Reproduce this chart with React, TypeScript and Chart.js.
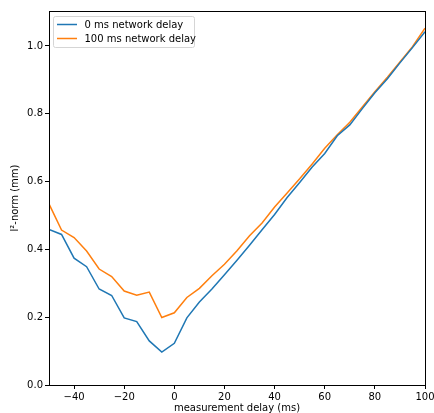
import React, { useEffect, useRef } from "react";
import { Chart, registerables } from "chart.js";

Chart.register(...registerables);

const delays = [-50, -45, -40, -35, -30, -25, -20, -15, -10, -5, 0, 5, 10, 15, 20, 25, 30, 35, 40, 45, 50, 55, 60, 65, 70, 75, 80, 85, 90, 95, 100];
const series0ms = [0.459, 0.444, 0.374, 0.349, 0.283, 0.264, 0.198, 0.187, 0.130, 0.097, 0.123, 0.198, 0.245, 0.283, 0.325, 0.368, 0.412, 0.458, 0.503, 0.553, 0.597, 0.643, 0.683, 0.735, 0.767, 0.815, 0.862, 0.903, 0.950, 0.995, 1.042];
const series100ms = [0.534, 0.457, 0.435, 0.395, 0.342, 0.320, 0.277, 0.265, 0.274, 0.199, 0.213, 0.258, 0.285, 0.322, 0.356, 0.396, 0.440, 0.478, 0.525, 0.566, 0.608, 0.652, 0.698, 0.738, 0.775, 0.820, 0.865, 0.908, 0.953, 0.998, 1.052];
const seriesLabels = ["0 ms network delay", "100 ms network delay"];
const seriesColors = ["#1f77b4", "#ff7f0e"];
const xTicks = [-40, -20, 0, 20, 40, 60, 80, 100];
const yTicks = [0, 0.2, 0.4, 0.6, 0.8, 1.0];

const FONT = "DejaVu Sans";

const boxPlugin = {
  id: "boxPlugin",
  afterDatasetsDraw(chart: any) {
    const { ctx, chartArea: a } = chart;
    ctx.save();
    ctx.strokeStyle = "#000";
    ctx.lineWidth = 1;
    ctx.strokeRect(Math.round(a.left) + 0.5, Math.round(a.top) + 0.5, Math.round(a.right - a.left), Math.round(a.bottom - a.top));
    ctx.restore();
  },
  afterDraw(chart: any) {
    const { ctx, chartArea: a } = chart;
    const x0 = a.left + 4.5;
    const y0 = a.top + 5.5;
    const w = 141;
    const h = 31;
    ctx.save();
    ctx.beginPath();
    const r = 2;
    ctx.moveTo(x0 + r, y0);
    ctx.lineTo(x0 + w - r, y0);
    ctx.quadraticCurveTo(x0 + w, y0, x0 + w, y0 + r);
    ctx.lineTo(x0 + w, y0 + h - r);
    ctx.quadraticCurveTo(x0 + w, y0 + h, x0 + w - r, y0 + h);
    ctx.lineTo(x0 + r, y0 + h);
    ctx.quadraticCurveTo(x0, y0 + h, x0, y0 + h - r);
    ctx.lineTo(x0, y0 + r);
    ctx.quadraticCurveTo(x0, y0, x0 + r, y0);
    ctx.closePath();
    ctx.fillStyle = "rgba(255,255,255,0.8)";
    ctx.fill();
    ctx.strokeStyle = "#d5d5d5";
    ctx.lineWidth = 1;
    ctx.stroke();
    ctx.font = `10px "${FONT}"`;
    ctx.textBaseline = "middle";
    ctx.textAlign = "left";
    seriesLabels.forEach((lab, i) => {
      const yy = y0 + 8 + i * 14;
      ctx.strokeStyle = seriesColors[i];
      ctx.lineWidth = 1.5;
      ctx.beginPath();
      ctx.moveTo(x0 + 3.5, yy);
      ctx.lineTo(x0 + 23.5, yy);
      ctx.stroke();
      ctx.fillStyle = "#000";
      ctx.fillText(lab, x0 + 31, yy + 0.5);
    });
    ctx.restore();
  },
};

export default function App() {
  const ref = useRef<HTMLCanvasElement>(null);
  useEffect(() => {
    document.body.style.margin = "0";
    const canvas = ref.current!;
    const mk = (vals: number[]) => delays.map((x, i) => ({ x, y: vals[i] }));
    const chart = new Chart(canvas, {
      type: "line",
      data: {
        datasets: [series0ms, series100ms].map((vals, i) => ({
          label: seriesLabels[i],
          data: mk(vals),
          borderColor: seriesColors[i],
          backgroundColor: seriesColors[i],
          borderWidth: 1.5,
          pointRadius: 0,
          tension: 0,
          fill: false,
        })),
      },
      options: {
        animation: false,
        responsive: false,
        maintainAspectRatio: false,
        layout: { padding: { top: 11, right: 9, left: 0, bottom: 0 } },
        plugins: { legend: { display: false }, tooltip: { enabled: false } },
        scales: {
          x: {
            type: "linear",
            min: -50,
            max: 100,
            afterBuildTicks: (s: any) => {
              s.ticks = xTicks.map((v) => ({ value: v }));
            },
            afterFit: (s: any) => {
              s.height = 28;
              s.paddingLeft = 0;
              s.paddingRight = 0;
            },
            border: { display: false },
            grid: { display: true, drawOnChartArea: false, tickLength: 4, color: "#000", tickWidth: 1 },
            ticks: {
              color: "#000",
              font: { family: FONT, size: 10 },
              padding: 2,
              maxRotation: 0,
              callback: (v: any) => (Number(v) < 0 ? "\u2212" + Math.abs(Number(v)) : String(v)),
            },
            title: {
              display: true,
              text: "measurement delay (ms)",
              color: "#000",
              font: { family: FONT, size: 10 },
              padding: { top: 0, bottom: -1 },
            },
          },
          y: {
            type: "linear",
            min: 0,
            max: 1.103,
            afterBuildTicks: (s: any) => {
              s.ticks = yTicks.map((v) => ({ value: v }));
            },
            afterFit: (s: any) => {
              s.width = 49;
              s.paddingTop = 0;
              s.paddingBottom = 0;
            },
            border: { display: false },
            grid: { display: true, drawOnChartArea: false, tickLength: 4, color: "#000", tickWidth: 1 },
            ticks: {
              color: "#000",
              font: { family: FONT, size: 10 },
              padding: 2,
              callback: (v: any) => Number(v).toFixed(1),
            },
            title: {
              display: true,
              text: "l\u00b2-norm (mm)",
              color: "#000",
              font: { family: FONT, size: 10 },
              padding: { top: 9, bottom: 0 },
            },
          },
        },
      },
      plugins: [boxPlugin],
    });
    return () => chart.destroy();
  }, []);
  return (
    <div style={{ position: "absolute", left: 0, top: 0, width: 434, height: 413, background: "#fff" }}>
      <canvas ref={ref} width={434} height={413} style={{ width: 434, height: 413, display: "block" }} />
    </div>
  );
}
